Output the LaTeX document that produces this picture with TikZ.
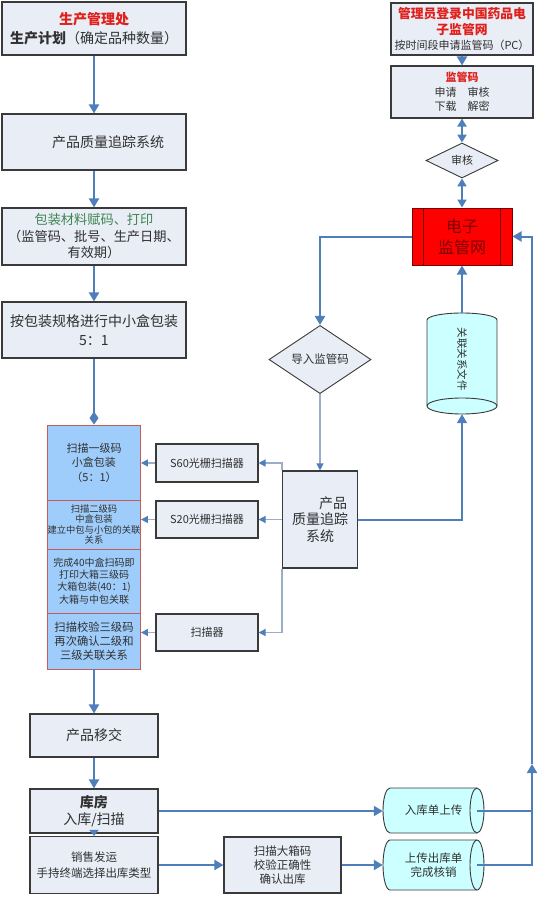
\documentclass[tikz,border=0pt]{standalone}
\usepackage{fontspec}
\setmainfont{Noto Sans CJK SC}
\usetikzlibrary{arrows.meta,shapes.geometric,calc}
\definecolor{boxfill}{HTML}{E8EDF6}
\definecolor{boxline}{HTML}{3A3A3A}
\definecolor{arrowc}{HTML}{4F7FBA}
\definecolor{thinc}{HTML}{9AAECA}
\definecolor{bluefill}{HTML}{9FCDFB}
\definecolor{blueline}{HTML}{C85A5A}
\definecolor{cylfill}{HTML}{CCFFFF}
\definecolor{redfill}{HTML}{FF0000}
\definecolor{darkred}{HTML}{7A0000}
\definecolor{titlered}{HTML}{E0201B}
\definecolor{greentext}{HTML}{3F8552}
\definecolor{textgray}{HTML}{303030}
\newcommand{\fsz}[2]{\fontsize{#1}{#2}\selectfont}
\newcommand{\redb}{\color{titlered}\bfseries}
\begin{document}
\begin{tikzpicture}[x=1pt,y=-1pt,
  box/.style={draw=boxline, fill=boxfill, line width=1.1pt, inner sep=0pt, align=center, text=textgray},
  bluebox/.style={draw=blueline, fill=bluefill, line width=0.9pt, inner sep=0pt, align=center, text=textgray},
  dia/.style={diamond, draw=boxline, fill=boxfill, line width=0.9pt, inner sep=0pt, align=center, text=textgray},
  ghost/.style={inner sep=0pt, align=center, text=textgray},
  arr/.style={draw=arrowc, line width=2pt, -{Triangle[length=9pt,width=10pt]}},
  lineonly/.style={draw=arrowc, line width=2pt},
  dbl/.style={draw=arrowc, line width=2pt, {Triangle[length=8pt,width=9pt]}-{Triangle[length=8pt,width=9pt]}},
  thinarr/.style={draw=thinc, line width=1.5pt, -{Triangle[length=7pt,width=7pt,color=arrowc]}},
  cylshape/.style={draw=boxline, fill=cylfill, line width=0.9pt}
]
\useasboundingbox (0,0) rectangle (542,897);

% ---------------- left column ----------------
\node[box, minimum width=184pt, minimum height=53pt, font=\fsz{14}{19}] (plan) at (94,28.5)
  {{\redb 生产管理处}\\{\bfseries 生产计划}（确定品种数量）};
\node[box, minimum width=184pt, minimum height=56pt, font=\fsz{14}{19}] (qts1) at (94,142)
  {\hspace*{28pt}产品质量追踪系统};
\node[box, minimum width=184pt, minimum height=57pt, font=\fsz{13.2}{16.5}] (pack) at (94,236.5)
  {{\color{greentext}包装材料赋码、打印}\\（监管码、批号、生产日期、\\有效期）};
\node[box, minimum width=184pt, minimum height=56pt, font=\fsz{14}{19}] (mid) at (94,330)
  {按包装规格进行中小盒包装\\5：1};

\node[bluebox, minimum width=93pt, minimum height=75pt, font=\fsz{11}{14.5}] (b1) at (94,462.5)
  {扫描一级码\\小盒包装\\（5：1）};
\node[bluebox, minimum width=93pt, minimum height=49pt, font=\fsz{9.3}{10.4}] (b2) at (94,524.5)
  {扫描二级码\\中盒包装\\建立中包与小包的关联\\关系};
\node[bluebox, minimum width=93pt, minimum height=64pt, font=\fsz{10}{12.3}] (b3) at (94,581)
  {完成40中盒扫码即\\打印大箱三级码\\大箱包装(40：1)\\大箱与中包关联};
\node[bluebox, minimum width=93pt, minimum height=56pt, font=\fsz{11.3}{14}] (b4) at (94,641)
  {扫描校验三级码\\再次确认二级和\\三级关联关系};

\node[box, minimum width=128pt, minimum height=43pt, font=\fsz{14}{17}] (transfer) at (94,735.5) {产品移交};
\node[box, minimum width=128pt, minimum height=44pt, font=\fsz{14}{17}] (store) at (94,811)
  {{\bfseries 库房}\\入库/扫描};
\node[box, minimum width=128pt, minimum height=57pt, font=\fsz{11.5}{16}] (sales) at (94,865)
  {销售发运\\手持终端选择出库类型};
\node[box, minimum width=117pt, minimum height=56pt, font=\fsz{11.5}{14}] (scanbig) at (282.5,865)
  {扫描大箱码\\校验正确性\\确认出库};

% ---------------- scanners and tracking system ----------------
\node[box, minimum width=102pt, minimum height=38pt, font=\fsz{11}{14}] (s60) at (207,463) {S60光栅扫描器};
\node[box, minimum width=102pt, minimum height=37pt, font=\fsz{11}{14}] (s20) at (207,519.5) {S20光栅扫描器};
\node[box, minimum width=102pt, minimum height=37pt, font=\fsz{11}{14}] (scan) at (207,632.5) {扫描器};
\node[box, minimum width=75pt, minimum height=97pt, font=\fsz{14}{16.5}] (qts2) at (320,519.5)
  {\hspace*{26pt}产品\\质量追踪\\系统};
\node[dia, minimum width=102pt, minimum height=55pt, font=\fsz{11.5}{14}] (import) at (320,359.5) {导入监管码};

% ---------------- top right ----------------
\node[box, minimum width=142pt, minimum height=52pt, font=\fsz{11}{15.5}] (admin) at (462,29)
  {{\redb\fsz{12.8}{15.5}管理员登录中国药品电}\\{\redb\fsz{12.8}{15.5}子监管网}\\按时间段申请监管码（PC）};
\node[box, minimum width=142pt, minimum height=52pt, font=\fsz{11}{14.5}] (code) at (462,92)
  {{\redb 监管码}\\申请\quad 审核\\下载\quad 解密};
\node[dia, minimum width=72pt, minimum height=35pt, font=\fsz{11}{14}] (audit) at (462,160.5) {审核};
\node[draw=darkred, fill=redfill, line width=1pt, minimum width=100pt, minimum height=57pt, inner sep=0pt,
  align=center, text=darkred, font=\fsz{16}{21}] (red) at (462,236.5) {电子\\监管网};
\draw[draw=darkred, line width=0.9pt] ($(red.north west)+(12,0)$) -- ($(red.south west)+(12,0)$);
\draw[draw=darkred, line width=0.9pt] ($(red.north east)+(-12,0)$) -- ($(red.south east)+(-12,0)$);

% vertical cylinder (relation file)
\path[cylshape] (427,320) arc[start angle=180, end angle=0, x radius=35pt, y radius=7pt]
  -- (497,406) arc[start angle=0, end angle=-180, x radius=35pt, y radius=8pt] -- cycle;
\draw[draw=boxline, line width=0.9pt] (497,406) arc[start angle=0, end angle=180, x radius=35pt, y radius=8pt];
\node[minimum width=70pt, minimum height=101pt, inner sep=0pt] (rel) at (462,363.5) {};
\node[ghost, rotate=-90, font=\fsz{10.5}{13}] (reltext) at (462,359) {关联关系文件};

% horizontal cylinders
\path[cylshape] (390,788) -- (477,788) arc[start angle=90, end angle=-90, x radius=7pt, y radius=22.5pt]
  -- (390,833) arc[start angle=270, end angle=90, x radius=7pt, y radius=22.5pt] -- cycle;
\draw[draw=boxline, line width=0.9pt] (477,788) arc[start angle=90, end angle=270, x radius=7pt, y radius=22.5pt];
\node[ghost, minimum width=101pt, minimum height=45pt, font=\fsz{11.5}{14}] (cyl1) at (433.5,810.5) {入库单上传};

\path[cylshape] (390,840) -- (477,840) arc[start angle=90, end angle=-90, x radius=7pt, y radius=25pt]
  -- (390,890) arc[start angle=270, end angle=90, x radius=7pt, y radius=25pt] -- cycle;
\draw[draw=boxline, line width=0.9pt] (477,840) arc[start angle=90, end angle=270, x radius=7pt, y radius=25pt];
\node[ghost, minimum width=101pt, minimum height=50pt, font=\fsz{11.5}{13.5}] (cyl2) at (433.5,865) {上传出库单\\完成核销};

% ---------------- connectors ----------------
\draw[arr] (plan) -- (qts1);
\draw[arr] (qts1) -- (pack);
\draw[arr] (pack) -- (mid);
\draw[draw=arrowc, line width=2pt, -{Diamond[length=13pt,width=9pt]}] (mid.south) -- (b1.north);
\draw[arr] (b4) -- (transfer);
\draw[arr] (transfer) -- (store);
\draw[draw=arrowc, line width=2pt, -{Triangle[length=6pt,width=9pt]}] (store.south) -- (sales.north);
\draw[arr] (store.east) -- (store.east -| cyl1.west);
\draw[arr] (sales) -- (scanbig);
\draw[arr] (scanbig.east) -- (scanbig.east -| cyl2.west);

\coordinate (r1) at (532,810.5);
\coordinate (r2) at (532,865);
\coordinate (rmid) at (532,764);
\draw[lineonly] ($(cyl1.east)+(-7,0)$) -- (r1);
\draw[arr] ($(cyl2.east)+(-7,0)$) -- (r2) -- (rmid);
\draw[arr] (rmid) |- (red.east);

\draw[arr] (admin) -- (code);
\draw[dbl] (code) -- (audit);
\draw[dbl] (audit) -- (red);
\draw[arr] (red.west) -| (import.north);
\draw[draw=thinc, line width=1.2pt, -{Triangle[length=7pt,width=7pt,color=arrowc]}] (import.south) -- (qts2.north);
\draw[arr] (qts2.east) -| (rel.south);
\draw[arr] (rel.north) -- (red.south);

\draw[thinarr] (qts2.north west) |- (s60.east);
\draw[thinarr] (qts2.west) -- (s20.east);
\draw[thinarr] (qts2.south west) |- (scan.east);
\draw[thinarr] (s60.west) -- (s60.west -| b1.east);
\draw[thinarr] (s20.west) -- (s20.west -| b2.east);
\draw[thinarr] (scan.west) -- (scan.west -| b4.east);
\end{tikzpicture}
\end{document}
